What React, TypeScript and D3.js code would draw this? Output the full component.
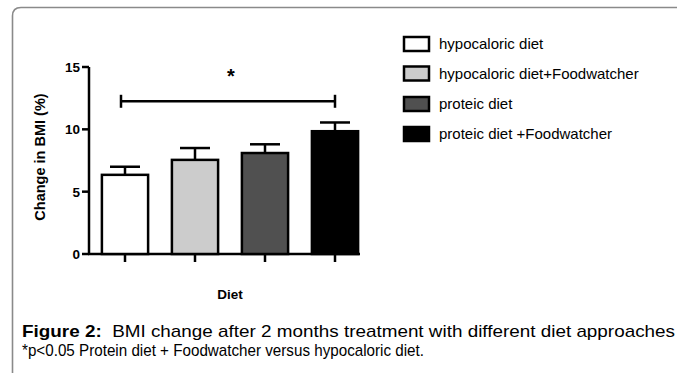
import React from "react";
import * as d3 from "d3";

const categories = ["hypocaloric diet", "hypocaloric diet+Foodwatcher", "proteic diet", "proteic diet +Foodwatcher"];
const means = [6.35, 7.55, 8.1, 9.85];
const errors = [0.65, 0.95, 0.7, 0.7];
const fills = ["#ffffff", "#cccccc", "#505050", "#000000"];
const yTicks = [0, 5, 10, 15];
const bracketValue = 12.25;

export default function App() {
  const W = 677, H = 373;
  const y = d3.scaleLinear().domain([0, 15]).range([254, 67]);
  const x = d3.scaleBand().domain(categories).range([90, 370]).paddingInner(0.34).paddingOuter(0.17);
  const bw = x.bandwidth();
  const cx = (c: string) => (x(c) as number) + bw / 2;
  const font = "'Liberation Sans', Arial, sans-serif";
  const by = y(bracketValue);
  return (
    <svg width={W} height={H} style={{ position: "absolute", left: 0, top: 0 }} fontFamily={font}>
      <rect width={W} height={H} fill="#fff" />
      <path d="M12.5,373 L12.5,16 Q12.5,7.5 21,7.5 L677,7.5" fill="none" stroke="#8a8a8a" strokeWidth={1.6} />
      {/* y axis */}
      <line x1={89} x2={89} y1={y(15)} y2={y(0)} stroke="#000" strokeWidth={2.5} />
      {yTicks.map((t) => (
        <g key={t}>
          <line x1={82} x2={89} y1={y(t)} y2={y(t)} stroke="#000" strokeWidth={2.5} />
          <text x={80} y={y(t)} dy="0.36em" textAnchor="end" fontWeight="bold" fontSize={13.5}>{t}</text>
        </g>
      ))}
      <text transform={`translate(45,157) rotate(-90)`} textAnchor="middle" fontWeight="bold" fontSize={14.5}>Change in BMI (%)</text>
      {/* x axis */}
      <line x1={88} x2={360} y1={y(0)} y2={y(0)} stroke="#000" strokeWidth={2.5} />
      {categories.map((c) => (
        <line key={c} x1={cx(c)} x2={cx(c)} y1={y(0)} y2={y(0) + 8} stroke="#000" strokeWidth={2.5} />
      ))}
      <text x={230} y={299} textAnchor="middle" fontWeight="bold" fontSize={13.5}>Diet</text>
      {/* bars */}
      {categories.map((c, i) => (
        <g key={c}>
          <line x1={cx(c)} x2={cx(c)} y1={y(means[i] + errors[i])} y2={y(means[i])} stroke="#000" strokeWidth={2.5} />
          <line x1={cx(c) - 15} x2={cx(c) + 15} y1={y(means[i] + errors[i])} y2={y(means[i] + errors[i])} stroke="#000" strokeWidth={2.5} />
          <rect x={x(c)} y={y(means[i])} width={bw} height={y(0) - y(means[i])} fill={fills[i]} stroke="#000" strokeWidth={2.5} />
        </g>
      ))}
      {/* significance bracket */}
      <line x1={cx(categories[0]) - 4} x2={cx(categories[3])} y1={by} y2={by} stroke="#000" strokeWidth={2.5} />
      <line x1={cx(categories[0]) - 4} x2={cx(categories[0]) - 4} y1={by - 6.5} y2={by + 6.5} stroke="#000" strokeWidth={2.5} />
      <line x1={cx(categories[3])} x2={cx(categories[3])} y1={by - 6.5} y2={by + 6.5} stroke="#000" strokeWidth={2.5} />
      <text x={231} y={83} textAnchor="middle" fontWeight="bold" fontSize={20}>*</text>
      {/* legend */}
      {categories.map((c, i) => {
        const ly = [44, 73.5, 104, 134][i];
        return (
          <g key={c}>
            <rect x={404} y={ly - 7} width={25} height={14} fill={fills[i]} stroke="#000" strokeWidth={2.5} />
            <text x={439} y={ly} dy="0.35em" fontSize={15}>{c}</text>
          </g>
        );
      })}
      {/* caption */}
      <text x={22} y={337} fontSize={17} textLength={653} lengthAdjust="spacingAndGlyphs">
        <tspan fontWeight="bold">Figure 2:</tspan>
        <tspan xmlSpace="preserve">{"  BMI change after 2 months treatment with different diet approaches"}</tspan>
      </text>
      <text x={22} y={356} fontSize={17} textLength={402} lengthAdjust="spacingAndGlyphs">*p&lt;0.05 Protein diet + Foodwatcher versus hypocaloric diet.</text>
    </svg>
  );
}
